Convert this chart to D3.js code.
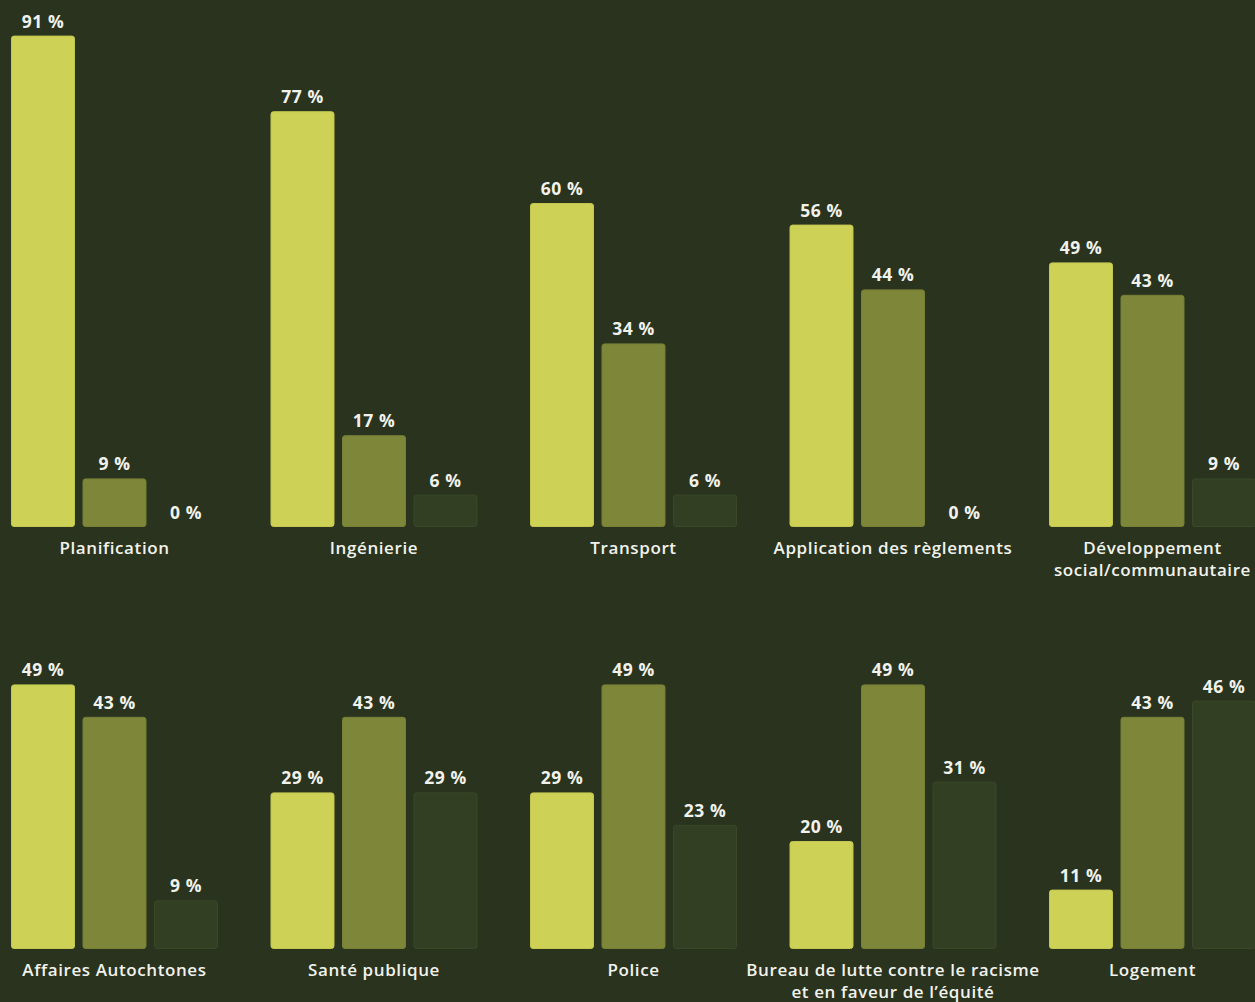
<!DOCTYPE html>
<html lang="fr">
<head>
<meta charset="utf-8">
<script src="https://cdn.jsdelivr.net/npm/d3@7"></script>
<style>
  html, body { margin: 0; padding: 0; background: #29331e; }
  svg { display: block; }
  text { font-family: "Open Sans", "Noto Sans", sans-serif; fill: #f1f2ec; }
</style>
</head>
<body>
<svg id="chart" width="1255" height="1002"></svg>
<script>
// Catégories (une ligne par rangée de 5 groupes) ; "\n" marque un retour à la ligne
const categoriesTop = ["Planification", "Ingénierie", "Transport", "Application des règlements", "Développement\nsocial/communautaire"];
const categoriesBottom = ["Affaires Autochtones", "Santé publique", "Police", "Bureau de lutte contre le racisme\net en faveur de l’équité", "Logement"];

// Trois séries de pourcentages, dans l'ordre des catégories
const serie1Top = [91, 77, 60, 56, 49];
const serie2Top = [9, 17, 34, 44, 43];
const serie3Top = [0, 6, 6, 0, 9];

const serie1Bottom = [49, 29, 29, 20, 11];
const serie2Bottom = [43, 43, 49, 49, 43];
const serie3Bottom = [9, 29, 23, 31, 46];

const seriesColors = ["#cdd256", "#7e863a", "#323f23"];
const seriesStroke = ["#c3c74f", "#788036", "#3a4829"];

const svg = d3.select("#chart");

// Échelle des groupes (commune aux deux rangées)
const groupX = d3.scaleBand()
  .domain(d3.range(5))
  .range([11, 1256])
  .paddingInner(52.5 / 259.5)
  .paddingOuter(0);

// Échelle des barres à l'intérieur d'un groupe
const barX = d3.scaleBand()
  .domain(d3.range(3))
  .range([0, groupX.bandwidth()])
  .paddingInner(0.105)
  .paddingOuter(0);

function drawRow(categories, seriesList, baseline) {
  const y = d3.scaleLinear().domain([0, 100]).range([baseline, baseline - 540]);
  const row = svg.append("g");

  const groups = row.selectAll("g.group")
    .data(categories.map((c, i) => ({
      name: c,
      values: seriesList.map(s => s[i])
    })))
    .join("g")
    .attr("class", "group")
    .attr("transform", (d, i) => `translate(${groupX(i)},0)`);

  groups.selectAll("rect")
    .data(d => d.values)
    .join("rect")
    .attr("x", (v, j) => barX(j) + 0.5)
    .attr("y", v => y(v) + 0.5)
    .attr("width", barX.bandwidth() - 1)
    .attr("height", v => Math.max(0, y(0) - y(v) - 1))
    .attr("rx", 2.5)
    .attr("fill", (v, j) => seriesColors[j])
    .attr("stroke", (v, j) => seriesStroke[j])
    .attr("stroke-width", 1)
    .attr("display", v => v > 0 ? null : "none");

  groups.selectAll("text.value")
    .data(d => d.values)
    .join("text")
    .attr("class", "value")
    .attr("x", (v, j) => barX(j) + barX.bandwidth() / 2)
    .attr("y", v => y(v) - 8)
    .attr("text-anchor", "middle")
    .attr("font-size", 17.5)
    .attr("font-weight", 700)
    .attr("letter-spacing", 0.6)
    .text(v => `${v} %`);

  groups.append("text")
    .attr("class", "category")
    .attr("x", groupX.bandwidth() / 2)
    .attr("y", baseline + 27)
    .attr("text-anchor", "middle")
    .attr("font-size", 17)
    .attr("font-weight", 600)
    .attr("letter-spacing", 0.6)
    .selectAll("tspan")
    .data(d => d.name.split("\n"))
    .join("tspan")
    .attr("x", groupX.bandwidth() / 2)
    .attr("dy", (t, k) => k === 0 ? 0 : 21.5)
    .text(t => t);
}

drawRow(categoriesTop, [serie1Top, serie2Top, serie3Top], 527);
drawRow(categoriesBottom, [serie1Bottom, serie2Bottom, serie3Bottom], 949);
</script>
</body>
</html>
